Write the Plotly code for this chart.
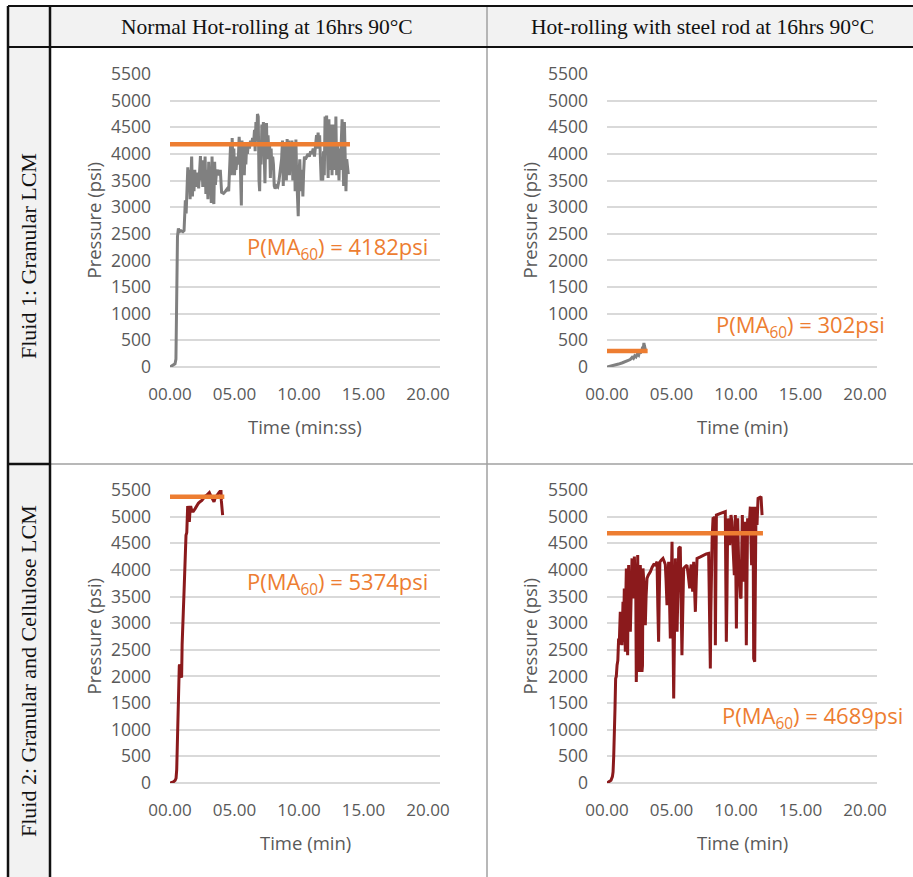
import plotly.graph_objects as go

W, H = 913, 877

# ---------------- data (time in minutes, pressure in psi) ----------------
col_headers = ["Normal Hot-rolling at 16hrs 90°C", "Hot-rolling with steel rod at 16hrs 90°C"]
row_headers = ["Fluid 1: Granular LCM", "Fluid 2: Granular and Cellulose LCM"]
x_titles = ["Time (min:ss)", "Time (min)", "Time (min)", "Time (min)"]
y_title = "Pressure (psi)"
x_tick_vals = [0, 5, 10, 15, 20]
x_tick_text = ["00.00", "05.00", "10.00", "15.00", "20.00"]
y_tick_vals = [0, 500, 1000, 1500, 2000, 2500, 3000, 3500, 4000, 4500, 5000, 5500]

# Fluid 1, normal hot-rolling
t1 = [0, 0.39, 0.46, 0.50, 0.54, 0.58, 0.65, 0.72, 0.85, 1.0,
      1.09, 1.14, 1.19, 1.25, 1.32, 1.38, 1.44, 1.50, 1.56, 1.62,
      1.68, 1.74, 1.80, 1.86, 1.92, 1.98, 2.04, 2.10, 2.16, 2.22,
      2.30, 2.36, 2.42, 2.48, 2.54, 2.60, 2.66, 2.72, 2.78, 2.86,
      2.94, 3.00, 3.06, 3.12, 3.20, 3.26, 3.32, 3.40, 3.46, 3.52,
      3.60, 3.70, 3.82, 3.90, 4.00, 4.15, 4.30, 4.45, 4.55, 4.62,
      4.70, 4.76, 4.82, 4.88, 4.95, 5.00, 5.06, 5.12, 5.20, 5.28,
      5.36, 5.42, 5.48, 5.53, 5.58, 5.64, 5.70, 5.76, 5.82, 5.88,
      5.94, 6.00, 6.08, 6.16, 6.24, 6.32, 6.40, 6.48, 6.55, 6.60,
      6.66, 6.72, 6.78, 6.84, 6.90, 6.95, 7.00, 7.06, 7.12, 7.18,
      7.24, 7.30, 7.36, 7.42, 7.48, 7.54, 7.60, 7.66, 7.72, 7.78,
      7.84, 7.90, 7.96, 8.02, 8.08, 8.15, 8.25, 8.35, 8.45, 8.55,
      8.65, 8.72, 8.78, 8.84, 8.90, 8.96, 9.02, 9.08, 9.14, 9.20,
      9.26, 9.32, 9.38, 9.45, 9.52, 9.58, 9.64, 9.70, 9.76, 9.82,
      9.88, 9.94, 10.00, 10.06, 10.12, 10.18, 10.24, 10.30, 10.36, 10.42,
      10.50, 10.60, 10.70, 10.80, 10.90, 11.00, 11.10, 11.20, 11.30, 11.36,
      11.42, 11.48, 11.54, 11.60, 11.66, 11.72, 11.78, 11.84, 11.90, 11.96,
      12.02, 12.08, 12.14, 12.20, 12.26, 12.32, 12.38, 12.44, 12.50, 12.56,
      12.62, 12.68, 12.74, 12.80, 12.86, 12.92, 12.98, 13.04, 13.10, 13.16,
      13.22, 13.28, 13.34, 13.40, 13.46, 13.52, 13.58, 13.64, 13.70, 13.76,
      13.82]
p1 = [0, 60, 150, 900, 1900, 2450, 2600, 2540, 2560, 2540,
      2560, 2900, 3130, 2880, 3250, 3750, 3320, 3700, 3150, 3600,
      3950, 3200, 3650, 3300, 3700, 3450, 3600, 3380, 3650, 3350,
      3900, 3960, 3500, 3880, 3380, 3820, 3450, 3950, 3250, 3700,
      3150, 3850, 3400, 3750, 3080, 3950, 3200, 3060, 3850, 3420,
      3650, 3700, 3600, 3700, 3280, 3260, 3300, 3350, 3300, 3850,
      4200, 3600, 4300, 3750, 4100, 3600, 3900, 3700, 3950, 3800,
      4320, 4100, 3300, 3030, 4250, 3700, 4050, 3600, 4200, 3800,
      4150, 4000, 4200, 4100, 4250, 4150, 4300, 4200, 4450, 4050,
      4600, 4250, 4750, 4700, 3500, 3300, 4200, 3800, 4550, 4300,
      4600, 3500, 3450, 4250, 4580, 3900, 4350, 4050, 4200, 3550,
      4100, 3700, 3950, 3800, 3400, 3350, 3400, 3380, 3500, 3700,
      3900, 4250, 3400, 4200, 3700, 4150, 3500, 4280, 3800, 4250,
      3600, 4050, 3900, 4250, 3500, 4000, 4200, 3300, 4270, 3600,
      3100, 2830, 3600, 3900, 3450, 3300, 3700, 3200, 3650, 3950,
      3900, 3950, 4000, 3950, 4050, 4000, 4100, 3950, 4200, 4350,
      4100, 4400, 4200, 4350, 3900, 3500, 3600, 3500, 4050, 3600,
      4700, 4300, 4720, 3900, 3550, 4650, 3700, 4300, 4550, 3600,
      4550, 3900, 4350, 3700, 4700, 3600, 4150, 3900, 3500, 4100,
      3700, 4250, 4650, 4000, 3400, 4600, 3350, 3300, 3900, 3650,
      3620]

# Fluid 1, hot-rolling with steel rod
t2 = [0, 0.3, 0.6, 0.9, 1.2, 1.4, 1.6, 1.8, 1.95, 2.05,
      2.15, 2.25, 2.35, 2.45, 2.52, 2.58, 2.64, 2.70, 2.76, 2.82,
      2.86, 2.90, 2.94, 2.98]
p2 = [0, 15, 35, 55, 80, 95, 120, 140, 180, 160,
      210, 190, 240, 220, 280, 250, 320, 290, 380, 360,
      450, 400, 350, 320]

# Fluid 2, normal hot-rolling
t3 = [0, 0.26, 0.40, 0.47, 0.52, 0.55, 0.57, 0.60, 0.65, 0.70,
      0.72, 0.76, 0.80, 0.86, 0.90, 0.94, 0.98, 1.03, 1.09, 1.12,
      1.16, 1.20, 1.24, 1.30, 1.34, 1.37, 1.42, 1.50, 1.56, 1.60,
      1.70, 1.81, 1.95, 2.07, 2.20, 2.33, 2.45, 2.58, 2.70, 2.84,
      2.95, 3.05, 3.15, 3.23, 3.32, 3.41, 3.50, 3.62, 3.72, 3.82,
      3.90, 3.95, 3.98, 4.02, 4.08]
p3 = [0, 20, 50, 90, 250, 600, 1050, 1100, 1500, 1900,
      2200, 2220, 2180, 2000, 1980, 2600, 3150, 3200, 3600, 3800,
      4350, 4400, 4650, 4700, 4950, 5200, 5150, 4900, 5150, 5200,
      5100, 5100, 5150, 5200, 5250, 5280, 5300, 5340, 5380, 5400,
      5420, 5450, 5400, 5360, 5300, 5280, 5350, 5400, 5430, 5460,
      5480, 5500, 5300, 5100, 5030]

# Fluid 2, hot-rolling with steel rod
t4 = [0, 0.31, 0.42, 0.47, 0.52, 0.57, 0.62, 0.67, 0.72, 0.78,
      0.84, 0.90, 0.95, 0.98, 1.03, 1.08, 1.12, 1.16, 1.20, 1.24,
      1.28, 1.34, 1.38, 1.42, 1.46, 1.50, 1.55, 1.60, 1.64, 1.68,
      1.72, 1.77, 1.81, 1.86, 1.90, 1.94, 1.98, 2.03, 2.07, 2.12,
      2.17, 2.22, 2.27, 2.32, 2.38, 2.43, 2.48, 2.53, 2.58, 2.62,
      2.66, 2.71, 2.75, 2.79, 2.84, 2.89, 2.93, 2.97, 3.03, 3.10,
      3.20, 3.36, 3.50, 3.62, 3.75, 3.88, 3.94, 4.00, 4.05, 4.10,
      4.20, 4.34, 4.45, 4.52, 4.58, 4.65, 4.70, 4.78, 4.84, 4.91,
      4.97, 5.04, 5.10, 5.17, 5.23, 5.30, 5.36, 5.43, 5.50, 5.56,
      5.62, 5.68, 5.74, 5.81, 5.88, 5.94, 6.05, 6.20, 6.30, 6.41,
      6.47, 6.53, 6.60, 6.64, 6.68, 6.72, 6.78, 6.85, 6.92, 6.98,
      7.20, 7.49, 7.70, 7.88, 7.95, 8.01, 8.05, 8.09, 8.15, 8.22,
      8.30, 8.36, 8.40, 8.44, 8.48, 8.80, 9.17, 9.21, 9.25, 9.30,
      9.36, 9.44, 9.51, 9.56, 9.61, 9.68, 9.75, 9.80, 9.87, 9.91,
      9.95, 9.99, 10.03, 10.08, 10.13, 10.20, 10.28, 10.34, 10.39, 10.44,
      10.49, 10.54, 10.59, 10.65, 10.72, 10.76, 10.80, 10.85, 10.90, 10.95,
      11.00, 11.05, 11.11, 11.16, 11.21, 11.26, 11.32, 11.35, 11.37, 11.45,
      11.50, 11.55, 11.60, 11.63, 11.67, 11.71, 11.85, 11.94, 11.98, 12.02]
p4 = [0, 50, 120, 207, 500, 833, 1400, 1960, 2000, 2211,
      2300, 2712, 2600, 2838, 3213, 2900, 3100, 2587, 3350, 3401,
      2650, 3652, 3000, 2462, 3500, 4028, 3200, 2399, 3800, 4090,
      3000, 3950, 2838, 3600, 4150, 4216, 3500, 4100, 3464, 4250,
      3900, 4100, 1898, 2500, 4278, 3300, 2086, 2200, 4090, 3900,
      3600, 2086, 2200, 4028, 3900, 3652, 3200, 2963, 3500, 3840,
      3900, 3965, 4050, 4100, 4090, 4153, 3300, 2650, 3500, 4150,
      4180, 4216, 4150, 4100, 3800, 3339, 3700, 4153, 3500, 2712,
      3600, 4529, 3200, 1585, 2800, 4216, 3500, 2838, 3600, 4404,
      4420, 4435, 3500, 2399, 3300, 4028, 4060, 4090, 3900, 3652,
      4000, 4100, 3800, 3590, 3900, 4153, 3700, 3213, 3800, 4216,
      4240, 4278, 4300, 4310, 3500, 2149, 3200, 4310, 4600, 4967,
      4980, 4990, 2587, 3800, 5030, 5060, 5093, 3800, 2650, 3500,
      4967, 4700, 4466, 4700, 5030, 4900, 4600, 4200, 3902, 4500,
      5030, 3900, 2900, 4000, 4967, 4200, 3590, 3500, 3464, 4300,
      5030, 4400, 3777, 4300, 4905, 3800, 2587, 3800, 4967, 4800,
      4717, 4900, 5187, 4600, 4090, 4600, 5187, 3500, 2337, 2274,
      3500, 5187, 4900, 4842, 5100, 5343, 5360, 5375, 5200, 5030]

# 60-point moving-average pressure levels and the time span they cover
ma_values = [4182, 302, 5374, 4689]
ma_end_times = [13.95, 3.15, 4.21, 12.09]
ma_labels = ["P(MA<sub>60</sub>) = 4182psi", "P(MA<sub>60</sub>) = 302psi",
             "P(MA<sub>60</sub>) = 5374psi", "P(MA<sub>60</sub>) = 4689psi"]

series_t = [t1, t2, t3, t4]
series_p = [p1, p2, p3, p4]
series_colors = ["#808080", "#808080", "#8b1a1c", "#8b1a1c"]
ORANGE = "#ed7d31"
TXT = "#595959"
GRID = "#d9d9d9"
FONT = "Open Sans"
SERIF = "Liberation Serif"


def fx(px):
    return px / W


def fy(py):
    return 1 - py / H


# panel geometry in pixels: (left, right, top, bottom)
panels = [(170, 440, 74, 367), (607, 877, 74, 367), (170, 440, 490, 783), (607, 877, 490, 783)]
label_pos = [(245, 248), (714, 326), (245, 583), (720, 717)]
ytitle_x = [93, 529, 93, 529]
xtitle_y = [426, 426, 842, 842]
PX_PER_MIN = 12.9

fig = go.Figure()
layout = dict(
    width=W, height=H, margin=dict(l=0, r=0, t=0, b=0, pad=0), autosize=False,
    paper_bgcolor="white", plot_bgcolor="white", showlegend=False,
    annotations=[], shapes=[],
)

for i in range(4):
    sfx = "" if i == 0 else str(i + 1)
    xa, ya = "x" + sfx, "y" + sfx
    fig.add_trace(go.Scatter(x=series_t[i], y=series_p[i], mode="lines", xaxis=xa, yaxis=ya,
                             line=dict(color=series_colors[i], width=3), hoverinfo="skip"))
    fig.add_trace(go.Scatter(x=[0, ma_end_times[i]], y=[ma_values[i], ma_values[i]], mode="lines",
                             xaxis=xa, yaxis=ya, line=dict(color=ORANGE, width=4.5), hoverinfo="skip"))
    l, r, t, b = panels[i]
    layout["xaxis" + sfx] = dict(
        domain=[fx(l), fx(r)], range=[0, (r - l) / PX_PER_MIN], anchor=ya, automargin=False,
        tickvals=x_tick_vals, ticktext=x_tick_text, showgrid=False, zeroline=False,
        showline=False, ticks="", ticklabelstandoff=15,
        tickfont=dict(family=FONT, size=17, color=TXT), fixedrange=True,
    )
    layout["yaxis" + sfx] = dict(
        domain=[fy(b), fy(t)], range=[0, 5500], anchor=xa, automargin=False,
        tickvals=y_tick_vals, showgrid=True, gridcolor=GRID, gridwidth=2,
        zeroline=True, zerolinecolor=GRID, zerolinewidth=2, showline=False,
        ticks="", ticklabelstandoff=18,
        tickfont=dict(family=FONT, size=17.5, color=TXT), fixedrange=True,
    )
    lx, ly = label_pos[i]
    layout["annotations"].append(dict(
        x=fx(lx), y=fy(ly), xref="paper", yref="paper", xanchor="left", yanchor="middle",
        text=ma_labels[i], showarrow=False, font=dict(family=FONT, size=22, color=ORANGE)))
    layout["annotations"].append(dict(
        x=fx((l + r) / 2), y=fy(xtitle_y[i]), xref="paper", yref="paper",
        xanchor="center", yanchor="middle", text=x_titles[i], showarrow=False,
        font=dict(family=FONT, size=18.5, color=TXT)))
    layout["annotations"].append(dict(
        x=fx(ytitle_x[i]), y=fy((t + b) / 2), xref="paper", yref="paper",
        xanchor="center", yanchor="middle", text=y_title, textangle=-90, showarrow=False,
        font=dict(family=FONT, size=18.5, color=TXT)))

# table headers
for txt, x in zip(col_headers, [267, 702]):
    layout["annotations"].append(dict(x=fx(x), y=fy(27), xref="paper", yref="paper", text=txt,
                                      xanchor="center", yanchor="middle", showarrow=False,
                                      font=dict(family=SERIF, size=21.5, color="#111")))
for txt, y in zip(row_headers, [256, 671]):
    layout["annotations"].append(dict(x=fx(28), y=fy(y), xref="paper", yref="paper", text=txt,
                                      xanchor="center", yanchor="middle", textangle=-90,
                                      showarrow=False, font=dict(family=SERIF, size=22, color="#111")))


# table backgrounds and rules
def rect(x0, y0, x1, y1, color):
    return dict(type="rect", xref="paper", yref="paper", x0=fx(x0), x1=fx(x1), y0=fy(y1), y1=fy(y0),
                fillcolor=color, line=dict(width=0), layer="below")


def line(x0, y0, x1, y1, color, width):
    return dict(type="line", xref="paper", yref="paper", x0=fx(x0), x1=fx(x1), y0=fy(y0), y1=fy(y1),
                line=dict(color=color, width=width), layer="above")


layout["shapes"] += [
    rect(8, 6, W, 47, "#f2f2f2"),
    rect(8, 47, 50, H, "#f2f2f2"),
    line(487, 6, 487, H, "#a0a0a0", 1.5),
    line(50, 464, W, 464, "#a0a0a0", 1.5),
    line(8, 464, 50, 464, "#111", 2.5),
    line(8, 6, W, 6, "#111", 2),
    line(8, 47, W, 47, "#111", 2),
    line(8, 6, 8, H, "#111", 2.5),
    line(50, 6, 50, H, "#111", 2.5),
]

fig.update_layout(**layout)
fig.write_html("out.html")
